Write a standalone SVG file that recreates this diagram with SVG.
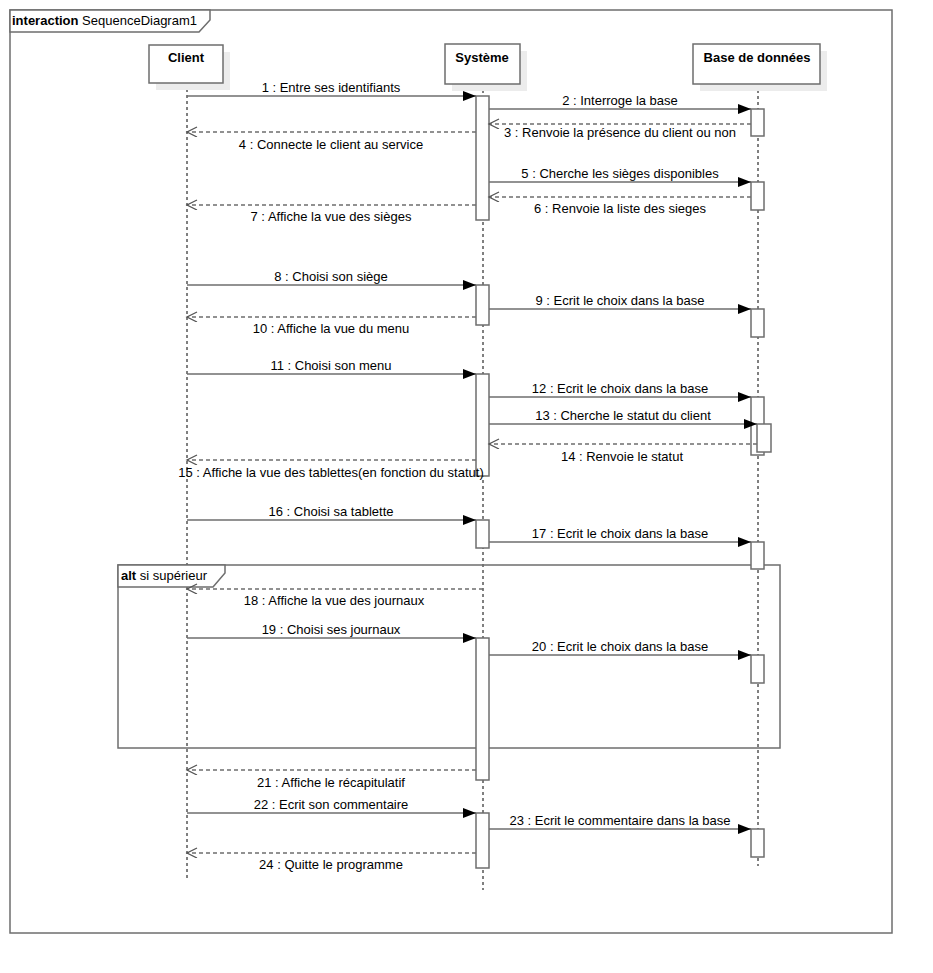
<svg xmlns="http://www.w3.org/2000/svg" width="933" height="973" viewBox="0 0 933 973">
<style>
text{font-family:"Liberation Sans",Arial,sans-serif;font-size:13px;fill:#000}
.b{font-weight:bold}
.m{text-anchor:middle}
.frame{fill:none;stroke:#6e6e6e;stroke-width:1.5}
.tab{fill:#fff;stroke:#6e6e6e;stroke-width:1.5}
.head{fill:#fff;stroke:#6e6e6e;stroke-width:1.5}
.shadow{fill:#ececec}
.life{stroke:#000;stroke-width:1;stroke-dasharray:3,3;fill:none}
.act{fill:#fff;stroke:#6e6e6e;stroke-width:1.5}
.msg{stroke:#6e6e6e;stroke-width:1.5;fill:none}
.ret{stroke:#6e6e6e;stroke-width:1.5;fill:none;stroke-dasharray:4,3}
</style>
<defs>
<marker id="sync" markerWidth="14" markerHeight="10" refX="13" refY="5" orient="auto" markerUnits="userSpaceOnUse">
<path d="M0,0 L13,5 L0,10 Z" fill="#000"/>
</marker>
<marker id="open" markerWidth="14" markerHeight="12" refX="11" refY="5" orient="auto" markerUnits="userSpaceOnUse">
<path d="M1,0 L11,5 L1,10" fill="none" stroke="#555" stroke-width="1.3"/>
</marker>
</defs>
<rect width="933" height="973" fill="#fff"/>
<g id="frame">
<rect class="frame" x="10" y="10" width="882" height="923"/>
<path class="tab" d="M10,10 H210 V20 L199,32 H10 Z"/>
<text x="12" y="25"><tspan class="b">interaction</tspan> SequenceDiagram1</text>
</g>
<g id="lifelines">
<line class="life" x1="187" y1="83" x2="187" y2="880"/>
<line class="life" x1="483" y1="84" x2="483" y2="890"/>
<line class="life" x1="758" y1="84" x2="758" y2="866"/>
</g>
<g id="client">
<rect class="shadow" x="156" y="52" width="74" height="38"/>
<rect class="head" x="149" y="45" width="74" height="38"/>
<text class="b m" x="186" y="62">Client</text>
</g>
<g id="systeme">
<rect class="shadow" x="452" y="51" width="75" height="40"/>
<rect class="head" x="445" y="44" width="75" height="40"/>
<text class="b m" x="482" y="62">Système</text>
</g>
<g id="base">
<rect class="shadow" x="700" y="51" width="127" height="40"/>
<rect class="head" x="693" y="44" width="127" height="40"/>
<text class="b m" x="757" y="62">Base de données</text>
</g>
<g id="alt">
<rect class="frame" x="118" y="565" width="662" height="183"/>
<path class="tab" d="M118,565 H225 V573 L213,587 H118 Z"/>
<text x="121" y="580"><tspan class="b">alt</tspan> si supérieur</text>
</g>
<g id="activations">
<rect class="act" x="476" y="96" width="13" height="124"/>
<rect class="act" x="476" y="285" width="13" height="40"/>
<rect class="act" x="476" y="374" width="13" height="102"/>
<rect class="act" x="476" y="520" width="13" height="28"/>
<rect class="act" x="476" y="638" width="13" height="142"/>
<rect class="act" x="476" y="813" width="13" height="55"/>
<rect class="act" x="751" y="109" width="13" height="27"/>
<rect class="act" x="751" y="182" width="13" height="28"/>
<rect class="act" x="751" y="309" width="13" height="28"/>
<rect class="act" x="751" y="397" width="13" height="58"/>
<rect class="act" x="757" y="424" width="14" height="28"/>
<rect class="act" x="751" y="542" width="13" height="27"/>
<rect class="act" x="751" y="655" width="13" height="28"/>
<rect class="act" x="751" y="829" width="13" height="28"/>
</g>
<g id="connectors">
<line class="msg" x1="187" y1="96" x2="476" y2="96" marker-end="url(#sync)"/>
<text class="m" x="331" y="92">1 : Entre ses identifiants</text>
<line class="msg" x1="489" y1="109" x2="751" y2="109" marker-end="url(#sync)"/>
<text class="m" x="620" y="105">2 : Interroge la base</text>
<line class="ret" x1="751" y1="124" x2="489" y2="124" marker-end="url(#open)"/>
<text class="m" x="620" y="137">3 : Renvoie la présence du client ou non</text>
<line class="ret" x1="476" y1="132" x2="187" y2="132" marker-end="url(#open)"/>
<text class="m" x="331" y="149">4 : Connecte le client au service</text>
<line class="msg" x1="489" y1="182" x2="751" y2="182" marker-end="url(#sync)"/>
<text class="m" x="620" y="178">5 : Cherche les sièges disponibles</text>
<line class="ret" x1="751" y1="197" x2="489" y2="197" marker-end="url(#open)"/>
<text class="m" x="620" y="213">6 : Renvoie la liste des sieges</text>
<line class="ret" x1="476" y1="205" x2="187" y2="205" marker-end="url(#open)"/>
<text class="m" x="331" y="221">7 : Affiche la vue des sièges</text>
<line class="msg" x1="187" y1="285" x2="476" y2="285" marker-end="url(#sync)"/>
<text class="m" x="331" y="281">8 : Choisi son siège</text>
<line class="msg" x1="489" y1="309" x2="751" y2="309" marker-end="url(#sync)"/>
<text class="m" x="620" y="305">9 : Ecrit le choix dans la base</text>
<line class="ret" x1="476" y1="317" x2="187" y2="317" marker-end="url(#open)"/>
<text class="m" x="331" y="333">10 : Affiche la vue du menu</text>
<line class="msg" x1="187" y1="374" x2="476" y2="374" marker-end="url(#sync)"/>
<text class="m" x="331" y="370">11 : Choisi son menu</text>
<line class="msg" x1="489" y1="397" x2="751" y2="397" marker-end="url(#sync)"/>
<text class="m" x="620" y="393">12 : Ecrit le choix dans la base</text>
<line class="msg" x1="489" y1="424" x2="757" y2="424" marker-end="url(#sync)"/>
<text class="m" x="623" y="420">13 : Cherche le statut du client</text>
<line class="ret" x1="757" y1="444" x2="489" y2="444" marker-end="url(#open)"/>
<text class="m" x="622" y="461">14 : Renvoie le statut</text>
<line class="ret" x1="476" y1="460" x2="187" y2="460" marker-end="url(#open)"/>
<text class="m" x="331" y="477">15 : Affiche la vue des tablettes(en fonction du statut)</text>
<line class="msg" x1="187" y1="520" x2="476" y2="520" marker-end="url(#sync)"/>
<text class="m" x="331" y="516">16 : Choisi sa tablette</text>
<line class="msg" x1="489" y1="542" x2="751" y2="542" marker-end="url(#sync)"/>
<text class="m" x="620" y="538">17 : Ecrit le choix dans la base</text>
<line class="ret" x1="483" y1="589" x2="187" y2="589" marker-end="url(#open)"/>
<text class="m" x="334" y="605">18 : Affiche la vue des journaux</text>
<line class="msg" x1="187" y1="638" x2="476" y2="638" marker-end="url(#sync)"/>
<text class="m" x="331" y="634">19 : Choisi ses journaux</text>
<line class="msg" x1="489" y1="655" x2="751" y2="655" marker-end="url(#sync)"/>
<text class="m" x="620" y="651">20 : Ecrit le choix dans la base</text>
<line class="ret" x1="476" y1="770" x2="187" y2="770" marker-end="url(#open)"/>
<text class="m" x="331" y="787">21 : Affiche le récapitulatif</text>
<line class="msg" x1="187" y1="813" x2="476" y2="813" marker-end="url(#sync)"/>
<text class="m" x="331" y="809">22 : Ecrit son commentaire</text>
<line class="msg" x1="489" y1="829" x2="751" y2="829" marker-end="url(#sync)"/>
<text class="m" x="620" y="825">23 : Ecrit le commentaire dans la base</text>
<line class="ret" x1="476" y1="853" x2="187" y2="853" marker-end="url(#open)"/>
<text class="m" x="331" y="869">24 : Quitte le programme</text>
</g>
</svg>
